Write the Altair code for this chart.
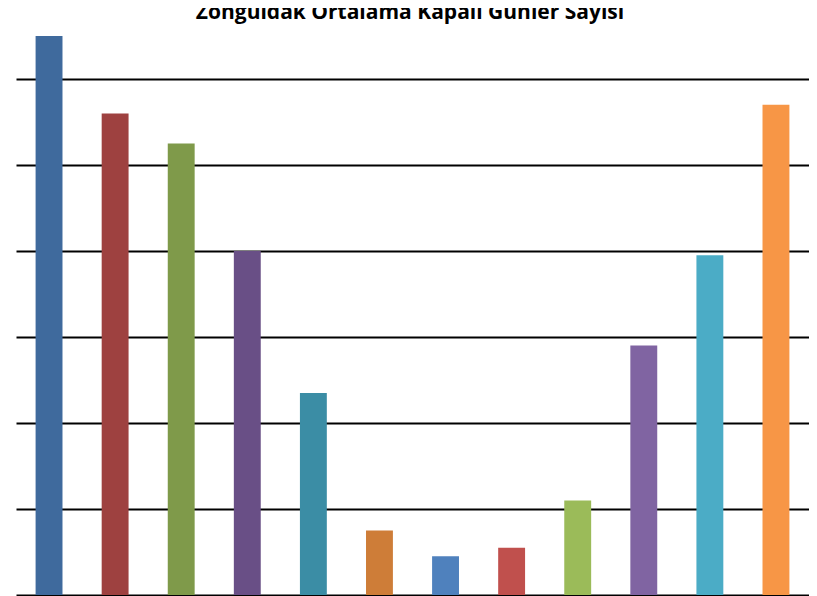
import altair as alt
import pandas as pd

title_text = "Zonguldak Ortalama Kapalı Günler Sayısı"
months = ["Ocak", "Şubat", "Mart", "Nisan", "Mayıs", "Haziran",
          "Temmuz", "Ağustos", "Eylül", "Ekim", "Kasım", "Aralık"]
values = [13.0, 11.2, 10.5, 8.0, 4.7, 1.5, 0.9, 1.1, 2.2, 5.8, 7.9, 11.4]
colors = ["#3F6A9D", "#9E4140", "#7F9A4A", "#694F86", "#3B8DA5", "#CE7D38",
          "#4F81BD", "#C0504D", "#9BBB59", "#8064A2", "#4BACC6", "#F79646"]
grid_ticks = [0, 2, 4, 6, 8, 10, 12]

df = pd.DataFrame({"Ay": months, "Gün": values})

W, H = 793, 567

bars = alt.Chart(df).mark_bar().encode(
    x=alt.X("Ay:N", sort=months,
            scale=alt.Scale(paddingInner=0.593, paddingOuter=0.2965),
            axis=None),
    y=alt.Y("Gün:Q",
            scale=alt.Scale(domain=[0, 13.186], nice=False, zero=True),
            axis=alt.Axis(values=grid_ticks, grid=True, gridColor="#000000",
                          gridWidth=1.8, labels=False, ticks=False,
                          domain=False, title=None)),
    color=alt.Color("Ay:N", sort=months,
                    scale=alt.Scale(domain=months, range=colors), legend=None),
)

title = alt.Chart(pd.DataFrame({"t": [title_text]})).mark_text(
    font="Open Sans", fontWeight="bold", fontSize=21, color="#000000",
    align="center", baseline="alphabetic"
).encode(
    x=alt.value(394), y=alt.value(-9), text="t:N"
)

chart = alt.layer(bars, title).properties(
    width=W, height=H,
    autosize=alt.AutoSizeParams(type="none"),
    padding={"left": 8, "top": 20, "right": 0, "bottom": 1},
).configure(background="#ffffff").configure_view(stroke=None)

chart.save("out.html", embed_options={"renderer": "svg", "actions": False})
